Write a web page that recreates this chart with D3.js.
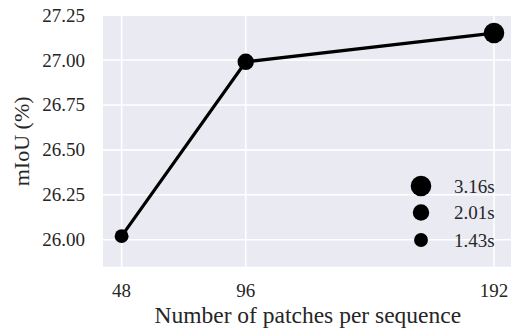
<!DOCTYPE html>
<html>
<head>
<meta charset="utf-8">
<script src="https://cdn.jsdelivr.net/npm/d3@7"></script>
</head>
<body style="margin:0">
<svg id="chart" width="511" height="330"></svg>
<script>
// Patches per sequence vs. mIoU, marker size encodes inference time
const patches = [48, 96, 192];
const miou = [26.02, 26.99, 27.15];
const timesSec = [1.43, 2.01, 3.16];
const xTicks = [48, 96, 192];
const yTicks = [26.00, 26.25, 26.50, 26.75, 27.00, 27.25];
const legendTimes = [3.16, 2.01, 1.43];

const SERIF = '"Liberation Serif"';
const svg = d3.select("#chart");
const plot = { left: 103, right: 512.6, top: 16, bottom: 266.7 };

const x = d3.scaleLinear().domain([40.8, 199.2]).range([plot.left, plot.right]);
const y = d3.scaleLinear().domain([25.85, 27.245]).range([plot.bottom, plot.top]);
const r = d3.scaleSqrt().domain([0, 3.16]).range([0, 10.3]);

// panel background
svg.append("rect")
  .attr("x", plot.left).attr("y", plot.top)
  .attr("width", plot.right - plot.left).attr("height", plot.bottom - plot.top)
  .attr("fill", "#EAEAF2");

// grid
const grid = svg.append("g").attr("stroke", "#fff").attr("stroke-width", 1.6);
grid.selectAll("line.v").data(xTicks).join("line")
  .attr("x1", d => x(d)).attr("x2", d => x(d))
  .attr("y1", plot.top).attr("y2", plot.bottom);
grid.selectAll("line.h").data(yTicks.filter(d => y(d) > plot.top + 1)).join("line")
  .attr("x1", plot.left).attr("x2", plot.right)
  .attr("y1", d => y(d)).attr("y2", d => y(d));

// tick labels
svg.selectAll("text.xt").data(xTicks).join("text")
  .attr("class", "xt")
  .attr("x", d => x(d)).attr("y", 297)
  .attr("text-anchor", "middle")
  .style("font-family", SERIF).attr("font-size", 19).attr("fill", "#262626")
  .text(d3.format("d"));
svg.selectAll("text.yt").data(yTicks).join("text")
  .attr("class", "yt")
  .attr("x", 85).attr("y", d => y(d) + 6.5)
  .attr("text-anchor", "end")
  .style("font-family", SERIF).attr("font-size", 19).attr("fill", "#262626")
  .text(d3.format(".2f"));

// axis titles
svg.append("text")
  .attr("x", (plot.left + plot.right) / 2).attr("y", 323)
  .attr("text-anchor", "middle")
  .style("font-family", SERIF).attr("font-size", 23.5).attr("fill", "#262626")
  .text("Number of patches per sequence");
svg.append("text")
  .attr("transform", `translate(29,${(plot.top + plot.bottom) / 2}) rotate(-90)`)
  .attr("text-anchor", "middle")
  .style("font-family", SERIF).attr("font-size", 22).attr("fill", "#262626")
  .text("mIoU (%)");

// line + markers
const pts = patches.map((p, i) => ({ p, v: miou[i], t: timesSec[i] }));
svg.append("path").datum(pts)
  .attr("fill", "none").attr("stroke", "#000").attr("stroke-width", 3.2)
  .attr("d", d3.line().x(d => x(d.p)).y(d => y(d.v)));
svg.selectAll("circle.pt").data(pts).join("circle")
  .attr("cx", d => x(d.p)).attr("cy", d => y(d.v)).attr("r", d => r(d.t))
  .attr("fill", "#000");

// size legend
const legY = [186, 212.5, 240];
legendTimes.forEach((t, i) => {
  svg.append("circle").attr("cx", 421).attr("cy", legY[i]).attr("r", r(t)).attr("fill", "#000");
  svg.append("text").attr("x", 454).attr("y", legY[i] + 6.5)
    .style("font-family", SERIF).attr("font-size", 19).attr("fill", "#262626")
    .text(t.toFixed(2) + "s");
});
</script>
</body>
</html>
